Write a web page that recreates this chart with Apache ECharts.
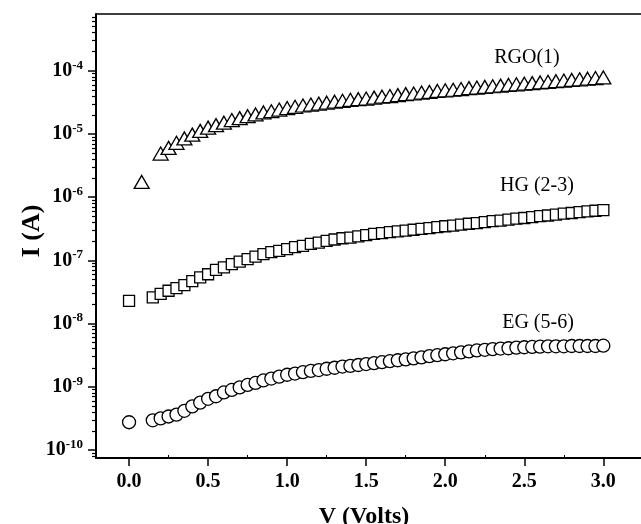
<!DOCTYPE html>
<html>
<head>
<meta charset="utf-8">
<script src="https://cdn.jsdelivr.net/npm/echarts@6/dist/echarts.min.js"></script>
<style>html,body{margin:0;padding:0;background:#fff}#c{width:641px;height:524px}</style>
</head>
<body>
<div id="c"></div>
<script>
// ---- data (V in volts, I in amperes) ----
const rgoV = [0.08, 0.2, 0.25, 0.3, 0.35, 0.4, 0.45, 0.5, 0.55, 0.6, 0.65, 0.7, 0.75, 0.8, 0.85, 0.9, 0.95, 1.0, 1.05, 1.1, 1.15, 1.2, 1.25, 1.3, 1.35, 1.4, 1.45, 1.5, 1.55, 1.6, 1.65, 1.7, 1.75, 1.8, 1.85, 1.9, 1.95, 2.0, 2.05, 2.1, 2.15, 2.2, 2.25, 2.3, 2.35, 2.4, 2.45, 2.5, 2.55, 2.6, 2.65, 2.7, 2.75, 2.8, 2.85, 2.9, 2.95, 3.0];
const rgoI = [1.74e-6, 4.90e-6, 6.03e-6, 7.24e-6, 8.51e-6, 9.77e-6, 1.12e-5, 1.26e-5, 1.38e-5, 1.51e-5, 1.66e-5, 1.78e-5, 1.91e-5, 2.04e-5, 2.19e-5, 2.29e-5, 2.43e-5, 2.57e-5, 2.69e-5, 2.82e-5, 2.92e-5, 3.02e-5, 3.13e-5, 3.24e-5, 3.35e-5, 3.47e-5, 3.55e-5, 3.63e-5, 3.76e-5, 3.89e-5, 3.98e-5, 4.12e-5, 4.27e-5, 4.37e-5, 4.52e-5, 4.62e-5, 4.79e-5, 4.90e-5, 5.01e-5, 5.13e-5, 5.31e-5, 5.43e-5, 5.56e-5, 5.69e-5, 5.82e-5, 5.96e-5, 6.10e-5, 6.24e-5, 6.38e-5, 6.53e-5, 6.68e-5, 6.84e-5, 7.00e-5, 7.16e-5, 7.33e-5, 7.50e-5, 7.67e-5, 7.85e-5];

const hgV = [0.0, 0.15, 0.2, 0.25, 0.3, 0.35, 0.4, 0.45, 0.5, 0.55, 0.6, 0.65, 0.7, 0.75, 0.8, 0.85, 0.9, 0.95, 1.0, 1.05, 1.1, 1.15, 1.2, 1.25, 1.3, 1.35, 1.4, 1.45, 1.5, 1.55, 1.6, 1.65, 1.7, 1.75, 1.8, 1.85, 1.9, 1.95, 2.0, 2.05, 2.1, 2.15, 2.2, 2.25, 2.3, 2.35, 2.4, 2.45, 2.5, 2.55, 2.6, 2.65, 2.7, 2.75, 2.8, 2.85, 2.9, 2.95, 3.0];
const hgI = [2.29e-8, 2.60e-8, 2.95e-8, 3.31e-8, 3.63e-8, 4.07e-8, 4.68e-8, 5.37e-8, 6.03e-8, 7.08e-8, 7.76e-8, 8.71e-8, 9.55e-8, 1.05e-7, 1.15e-7, 1.26e-7, 1.35e-7, 1.41e-7, 1.51e-7, 1.62e-7, 1.70e-7, 1.82e-7, 1.91e-7, 2.04e-7, 2.14e-7, 2.24e-7, 2.29e-7, 2.40e-7, 2.51e-7, 2.63e-7, 2.69e-7, 2.79e-7, 2.88e-7, 2.95e-7, 3.05e-7, 3.16e-7, 3.24e-7, 3.35e-7, 3.47e-7, 3.55e-7, 3.67e-7, 3.80e-7, 3.89e-7, 4.03e-7, 4.17e-7, 4.27e-7, 4.42e-7, 4.57e-7, 4.68e-7, 4.84e-7, 5.01e-7, 5.13e-7, 5.31e-7, 5.50e-7, 5.62e-7, 5.82e-7, 5.96e-7, 6.10e-7, 6.24e-7];

const egV = [0.0, 0.15, 0.2, 0.25, 0.3, 0.35, 0.4, 0.45, 0.5, 0.55, 0.6, 0.65, 0.7, 0.75, 0.8, 0.85, 0.9, 0.95, 1.0, 1.05, 1.1, 1.15, 1.2, 1.25, 1.3, 1.35, 1.4, 1.45, 1.5, 1.55, 1.6, 1.65, 1.7, 1.75, 1.8, 1.85, 1.9, 1.95, 2.0, 2.05, 2.1, 2.15, 2.2, 2.25, 2.3, 2.35, 2.4, 2.45, 2.5, 2.55, 2.6, 2.65, 2.7, 2.75, 2.8, 2.85, 2.9, 2.95, 3.0];
const egI = [2.75e-10, 2.95e-10, 3.16e-10, 3.39e-10, 3.63e-10, 4.17e-10, 4.90e-10, 5.62e-10, 6.46e-10, 7.08e-10, 8.13e-10, 8.91e-10, 9.77e-10, 1.07e-9, 1.15e-9, 1.26e-9, 1.35e-9, 1.45e-9, 1.55e-9, 1.62e-9, 1.70e-9, 1.78e-9, 1.84e-9, 1.93e-9, 2.00e-9, 2.09e-9, 2.14e-9, 2.21e-9, 2.29e-9, 2.37e-9, 2.45e-9, 2.54e-9, 2.63e-9, 2.72e-9, 2.82e-9, 2.92e-9, 3.05e-9, 3.16e-9, 3.27e-9, 3.39e-9, 3.51e-9, 3.63e-9, 3.76e-9, 3.85e-9, 3.94e-9, 4.03e-9, 4.07e-9, 4.17e-9, 4.22e-9, 4.27e-9, 4.32e-9, 4.37e-9, 4.37e-9, 4.37e-9, 4.42e-9, 4.42e-9, 4.42e-9, 4.42e-9, 4.47e-9];

const seriesNames = ['RGO(1)', 'HG (2-3)', 'EG (5-6)'];
const xTicks = [0.0, 0.5, 1.0, 1.5, 2.0, 2.5, 3.0];
const xMinorTicks = [0.25, 0.75, 1.25, 1.75, 2.25, 2.75, 3.25];
const yExponents = [-10, -9, -8, -7, -6, -5, -4];
const yMinorMultipliers = [2, 3, 4, 5, 6, 7, 8, 9];

// ---- build ----
const pair = (xs, ys) => xs.map((x, i) => [x, ys[i]]);
const yTickValues = yExponents.map(e => Math.pow(10, e));
const yMinorValues = [];
[-11].concat(yExponents).forEach(e => yMinorMultipliers.forEach(m => yMinorValues.push(m * Math.pow(10, e))));
const Y_MIN = 7.47e-11, Y_MAX = 7.91e-4;
const X_MIN = -0.209, X_MAX = 3.333;
const FONT = '"Liberation Serif", "Times New Roman", serif';

const chart = echarts.init(document.getElementById('c'), null, {renderer: 'canvas'});
const markerBase = {
  type: 'scatter', xAxisIndex: 0, yAxisIndex: 0,
  itemStyle: {color: '#fff', borderColor: '#000', borderWidth: 1.3, opacity: 1},
  emphasis: {disabled: true}, silent: true
};
chart.setOption({
  animation: false,
  backgroundColor: '#fff',
  grid: {left: 96, top: 14, width: 560, height: 444, show: false, outerBoundsMode: 'none', containLabel: false},
  xAxis: [{
    type: 'value', min: X_MIN, max: X_MAX, position: 'bottom',
    axisLine: {show: true, onZero: false, lineStyle: {color: '#000', width: 2}},
    axisTick: {show: true, customValues: xTicks, length: 8, lineStyle: {color: '#000', width: 1.5}},
    axisLabel: {show: true, customValues: xTicks, margin: 14, formatter: v => v.toFixed(1),
      color: '#000', fontFamily: FONT, fontWeight: 'bold', fontSize: 20},
    splitLine: {show: false}
  }, {
    type: 'value', min: X_MIN, max: X_MAX, position: 'bottom', gridIndex: 0,
    axisLine: {show: false, onZero: false},
    axisTick: {show: true, inside: true, customValues: xMinorTicks, length: 3, lineStyle: {color: '#000', width: 1}},
    axisLabel: {show: false}, splitLine: {show: false}
  }, {
    type: 'value', min: X_MIN, max: X_MAX, position: 'top', gridIndex: 0,
    axisLine: {show: true, onZero: false, lineStyle: {color: '#000', width: 1.5}},
    axisTick: {show: false}, axisLabel: {show: false}, splitLine: {show: false}
  }],
  yAxis: [{
    type: 'log', logBase: 10, min: Y_MIN, max: Y_MAX, position: 'left',
    axisLine: {show: true, onZero: false, lineStyle: {color: '#000', width: 2}},
    axisTick: {show: true, customValues: yTickValues, length: 8, lineStyle: {color: '#000', width: 1.5}},
    axisLabel: {show: true, customValues: yTickValues, margin: 13,
      formatter: v => '{b|10}{s|' + Math.round(Math.log10(v)) + '}',
      rich: {
        b: {fontFamily: FONT, fontWeight: 'bold', fontSize: 20, color: '#000'},
        s: {fontFamily: FONT, fontWeight: 'bold', fontSize: 13, color: '#000', padding: [0, 0, 11, 0]}
      }},
    splitLine: {show: false}
  }, {
    type: 'log', logBase: 10, min: Y_MIN, max: Y_MAX, position: 'left', gridIndex: 0,
    axisLine: {show: false, onZero: false},
    axisTick: {show: true, customValues: yMinorValues.filter(v => v > Y_MIN && v < Y_MAX), length: 4, lineStyle: {color: '#000', width: 1.2}},
    axisLabel: {show: false}, splitLine: {show: false}
  }],
  series: [
    Object.assign({}, markerBase, {name: seriesNames[0], symbol: 'triangle', symbolSize: [15, 13], data: pair(rgoV, rgoI)}),
    Object.assign({}, markerBase, {name: seriesNames[1], symbol: 'rect', symbolSize: [11, 11], data: pair(hgV, hgI)}),
    Object.assign({}, markerBase, {name: seriesNames[2], symbol: 'circle', symbolSize: 13, data: pair(egV, egI)})
  ],
  graphic: [
    {type: 'text', x: 527, y: 58, style: {text: seriesNames[0], font: '20px ' + FONT, fill: '#000', align: 'center', verticalAlign: 'middle'}},
    {type: 'text', x: 537, y: 186, style: {text: seriesNames[1], font: '20px ' + FONT, fill: '#000', align: 'center', verticalAlign: 'middle'}},
    {type: 'text', x: 538, y: 323, style: {text: seriesNames[2], font: '20px ' + FONT, fill: '#000', align: 'center', verticalAlign: 'middle'}},
    {type: 'text', x: 364, y: 517, style: {text: 'V (Volts)', font: 'bold 24px ' + FONT, fill: '#000', align: 'center', verticalAlign: 'middle'}},
    {type: 'text', x: 32, y: 231, rotation: Math.PI / 2, style: {text: 'I (A)', font: 'bold 26px ' + FONT, fill: '#000', align: 'center', verticalAlign: 'middle'}}
  ]
});
</script>
</body>
</html>
